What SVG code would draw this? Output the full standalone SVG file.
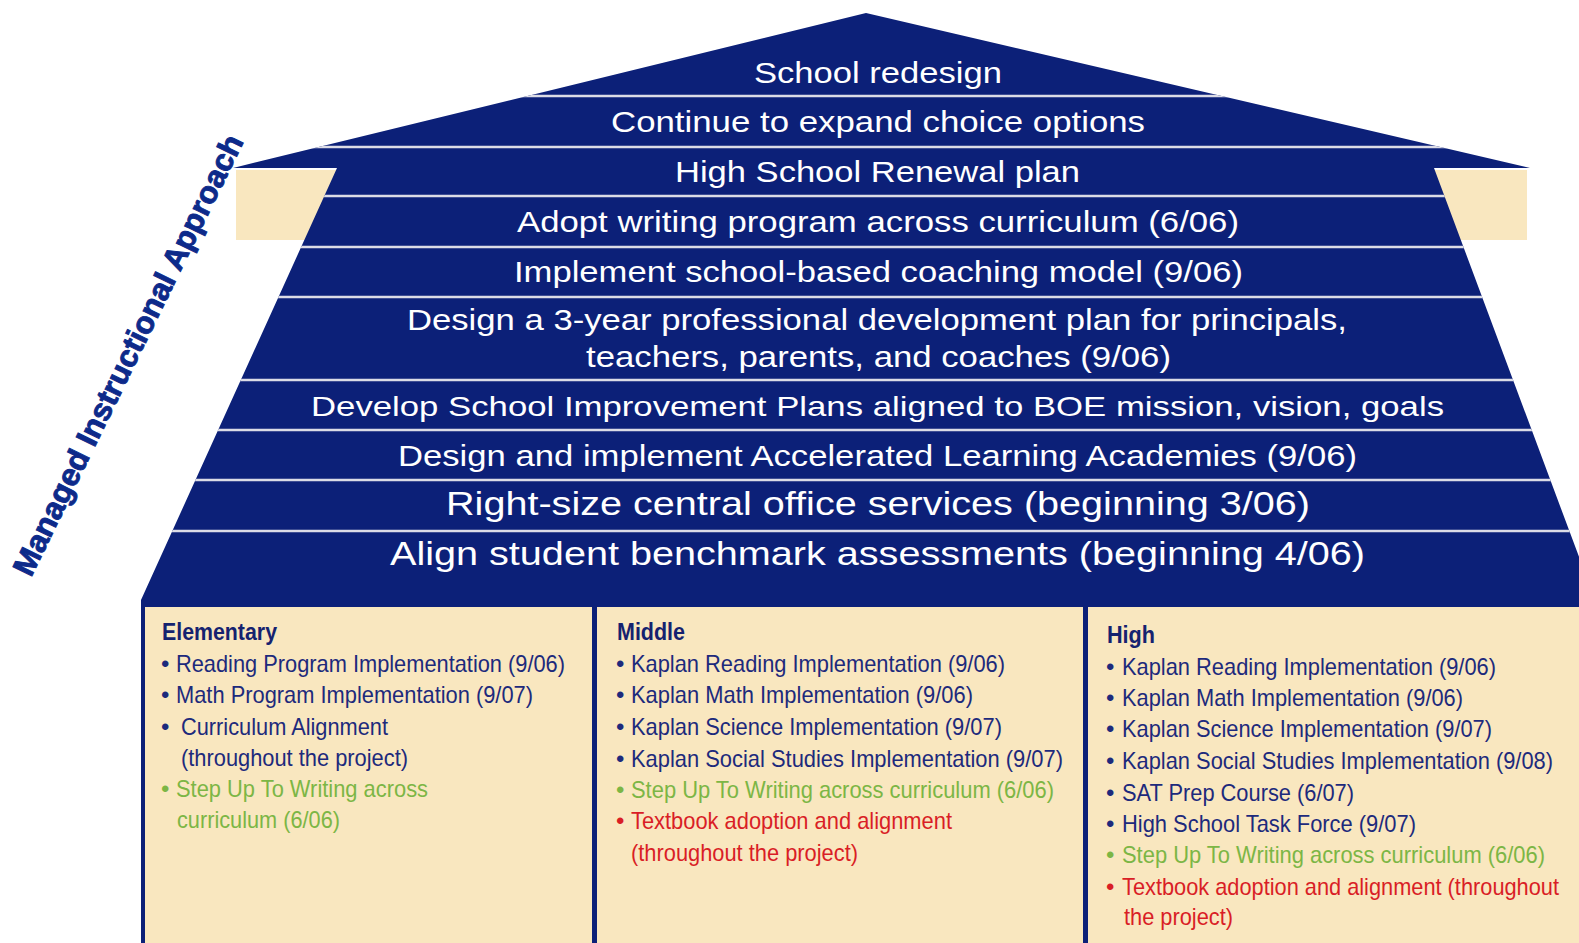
<svg xmlns="http://www.w3.org/2000/svg" width="1579" height="943" viewBox="0 0 1579 943">
  <style>
    .navy { fill: #0c2078; }
    .cream { fill: #f9e7bf; }
    .divider { stroke: #dcdce6; stroke-width: 2.5; }
    .tier { font-family: "Liberation Sans", Arial, sans-serif; fill: #ffffff; }
    .side { font-family: "Liberation Sans", Arial, sans-serif; font-weight: bold; font-size: 31px; fill: #0d2a8a; stroke: #0d2a8a; stroke-width: 0.9; }
    .item { font-family: "Liberation Sans", Arial, sans-serif; font-size: 24px; }
    .head { font-weight: bold; fill: #15226f; }
    .nv { fill: #1d2a7c; }
    .gr { fill: #7cb645; }
    .rd { fill: #d91e26; }
  </style>
  <defs>
    <clipPath id="houseClip">
      <polygon points="866,13 1530,168 1434,168 1610,640 1610,607 141,607 141,600 337,168 233,168"/>
    </clipPath>
  </defs>

  <rect width="1579" height="943" fill="#ffffff"/>

  <!-- eaves under the roof -->
  <g id="eaves">
    <rect class="cream" x="236" y="170" width="110" height="70"/>
    <rect class="cream" x="1420" y="170" width="107" height="70"/>
  </g>

  <!-- house silhouette -->
  <g id="house">
    <polygon class="navy" points="866,13 1530,168 1434,168 1610,640 1610,943 141,943 141,600 337,168 233,168"/>
  </g>

  <!-- separators between tiers -->
  <g id="connectors" clip-path="url(#houseClip)">
    <line class="divider" x1="0" y1="96" x2="1579" y2="96"/>
    <line class="divider" x1="0" y1="147" x2="1579" y2="147"/>
    <line class="divider" x1="0" y1="196" x2="1579" y2="196"/>
    <line class="divider" x1="0" y1="247" x2="1579" y2="247"/>
    <line class="divider" x1="0" y1="297" x2="1579" y2="297"/>
    <line class="divider" x1="0" y1="380" x2="1579" y2="380"/>
    <line class="divider" x1="0" y1="430" x2="1579" y2="430"/>
    <line class="divider" x1="0" y1="480" x2="1579" y2="480"/>
    <line class="divider" x1="0" y1="531" x2="1579" y2="531"/>
  </g>

  <!-- tiers, top to bottom -->
  <g id="tier-school-redesign">
    <text class="tier" x="754" y="83" font-size="29" textLength="248" lengthAdjust="spacingAndGlyphs">School redesign</text>
  </g>
  <g id="tier-choice-options">
    <text class="tier" x="611" y="132" font-size="29" textLength="534" lengthAdjust="spacingAndGlyphs">Continue to expand choice options</text>
  </g>
  <g id="tier-hs-renewal">
    <text class="tier" x="675" y="182" font-size="29" textLength="405" lengthAdjust="spacingAndGlyphs">High School Renewal plan</text>
  </g>
  <g id="tier-writing-program">
    <text class="tier" x="517" y="232" font-size="30" textLength="722" lengthAdjust="spacingAndGlyphs">Adopt writing program across curriculum (6/06)</text>
  </g>
  <g id="tier-coaching-model">
    <text class="tier" x="514" y="282" font-size="29" textLength="729" lengthAdjust="spacingAndGlyphs">Implement school-based coaching model (9/06)</text>
  </g>
  <g id="tier-pd-plan">
    <text class="tier" x="407" y="330" font-size="29" textLength="940" lengthAdjust="spacingAndGlyphs">Design a 3-year professional development plan for principals,</text>
    <text class="tier" x="586" y="367" font-size="29" textLength="585" lengthAdjust="spacingAndGlyphs">teachers, parents, and coaches (9/06)</text>
  </g>
  <g id="tier-improvement-plans">
    <text class="tier" x="311" y="416" font-size="28" textLength="1133" lengthAdjust="spacingAndGlyphs">Develop School Improvement Plans aligned to BOE mission, vision, goals</text>
  </g>
  <g id="tier-academies">
    <text class="tier" x="398" y="466" font-size="29" textLength="959" lengthAdjust="spacingAndGlyphs">Design and implement Accelerated Learning Academies (9/06)</text>
  </g>
  <g id="tier-central-office">
    <text class="tier" x="446" y="515" font-size="33" textLength="864" lengthAdjust="spacingAndGlyphs">Right-size central office services (beginning 3/06)</text>
  </g>
  <g id="tier-benchmarks">
    <text class="tier" x="390" y="565" font-size="33" textLength="975" lengthAdjust="spacingAndGlyphs">Align student benchmark assessments (beginning 4/06)</text>
  </g>

  <!-- slanted caption along the left wall -->
  <g id="side-label">
    <text class="side" transform="translate(31,578) rotate(-64)" x="0" y="0" textLength="486" lengthAdjust="spacingAndGlyphs">Managed Instructional Approach</text>
  </g>

  <!-- foundation panel with three columns -->
  <g id="foundation">
    <rect class="cream" x="145" y="607" width="1440" height="340"/>
    <rect class="navy" x="592" y="607" width="5" height="340"/>
    <rect class="navy" x="1083" y="607" width="5" height="340"/>
  </g>

  <g id="col-elementary" class="item">
    <text class="head" x="162" y="640" textLength="115" lengthAdjust="spacingAndGlyphs">Elementary</text>
    <text class="nv" x="161" y="672">•</text>
    <text class="nv" x="176" y="672" textLength="389" lengthAdjust="spacingAndGlyphs">Reading Program Implementation (9/06)</text>
    <text class="nv" x="161" y="703">•</text>
    <text class="nv" x="176" y="703" textLength="357" lengthAdjust="spacingAndGlyphs">Math Program Implementation (9/07)</text>
    <text class="nv" x="161" y="735">•</text>
    <text class="nv" x="181" y="735" textLength="207" lengthAdjust="spacingAndGlyphs">Curriculum Alignment</text>
    <text class="nv" x="181" y="766" textLength="227" lengthAdjust="spacingAndGlyphs">(throughout the project)</text>
    <text class="gr" x="161" y="797">•</text>
    <text class="gr" x="176" y="797" textLength="252" lengthAdjust="spacingAndGlyphs">Step Up To Writing across</text>
    <text class="gr" x="177" y="828" textLength="163" lengthAdjust="spacingAndGlyphs">curriculum (6/06)</text>
  </g>

  <g id="col-middle" class="item">
    <text class="head" x="617" y="640" textLength="68" lengthAdjust="spacingAndGlyphs">Middle</text>
    <text class="nv" x="616" y="672">•</text>
    <text class="nv" x="631" y="672" textLength="374" lengthAdjust="spacingAndGlyphs">Kaplan Reading Implementation (9/06)</text>
    <text class="nv" x="616" y="703">•</text>
    <text class="nv" x="631" y="703" textLength="342" lengthAdjust="spacingAndGlyphs">Kaplan Math Implementation (9/06)</text>
    <text class="nv" x="616" y="735">•</text>
    <text class="nv" x="631" y="735" textLength="371" lengthAdjust="spacingAndGlyphs">Kaplan Science Implementation (9/07)</text>
    <text class="nv" x="616" y="767">•</text>
    <text class="nv" x="631" y="767" textLength="432" lengthAdjust="spacingAndGlyphs">Kaplan Social Studies Implementation (9/07)</text>
    <text class="gr" x="616" y="798">•</text>
    <text class="gr" x="631" y="798" textLength="423" lengthAdjust="spacingAndGlyphs">Step Up To Writing across curriculum (6/06)</text>
    <text class="rd" x="616" y="829">•</text>
    <text class="rd" x="631" y="829" textLength="321" lengthAdjust="spacingAndGlyphs">Textbook adoption and alignment</text>
    <text class="rd" x="631" y="861" textLength="227" lengthAdjust="spacingAndGlyphs">(throughout the project)</text>
  </g>

  <g id="col-high" class="item">
    <text class="head" x="1107" y="643" textLength="48" lengthAdjust="spacingAndGlyphs">High</text>
    <text class="nv" x="1106" y="675">•</text>
    <text class="nv" x="1122" y="675" textLength="374" lengthAdjust="spacingAndGlyphs">Kaplan Reading Implementation (9/06)</text>
    <text class="nv" x="1106" y="706">•</text>
    <text class="nv" x="1122" y="706" textLength="341" lengthAdjust="spacingAndGlyphs">Kaplan Math Implementation (9/06)</text>
    <text class="nv" x="1106" y="737">•</text>
    <text class="nv" x="1122" y="737" textLength="370" lengthAdjust="spacingAndGlyphs">Kaplan Science Implementation (9/07)</text>
    <text class="nv" x="1106" y="769">•</text>
    <text class="nv" x="1122" y="769" textLength="431" lengthAdjust="spacingAndGlyphs">Kaplan Social Studies Implementation (9/08)</text>
    <text class="nv" x="1106" y="801">•</text>
    <text class="nv" x="1122" y="801" textLength="232" lengthAdjust="spacingAndGlyphs">SAT Prep Course (6/07)</text>
    <text class="nv" x="1106" y="832">•</text>
    <text class="nv" x="1122" y="832" textLength="294" lengthAdjust="spacingAndGlyphs">High School Task Force (9/07)</text>
    <text class="gr" x="1106" y="863">•</text>
    <text class="gr" x="1122" y="863" textLength="423" lengthAdjust="spacingAndGlyphs">Step Up To Writing across curriculum (6/06)</text>
    <text class="rd" x="1106" y="895">•</text>
    <text class="rd" x="1122" y="895" textLength="437" lengthAdjust="spacingAndGlyphs">Textbook adoption and alignment (throughout</text>
    <text class="rd" x="1124" y="925" textLength="109" lengthAdjust="spacingAndGlyphs">the project)</text>
  </g>
</svg>
